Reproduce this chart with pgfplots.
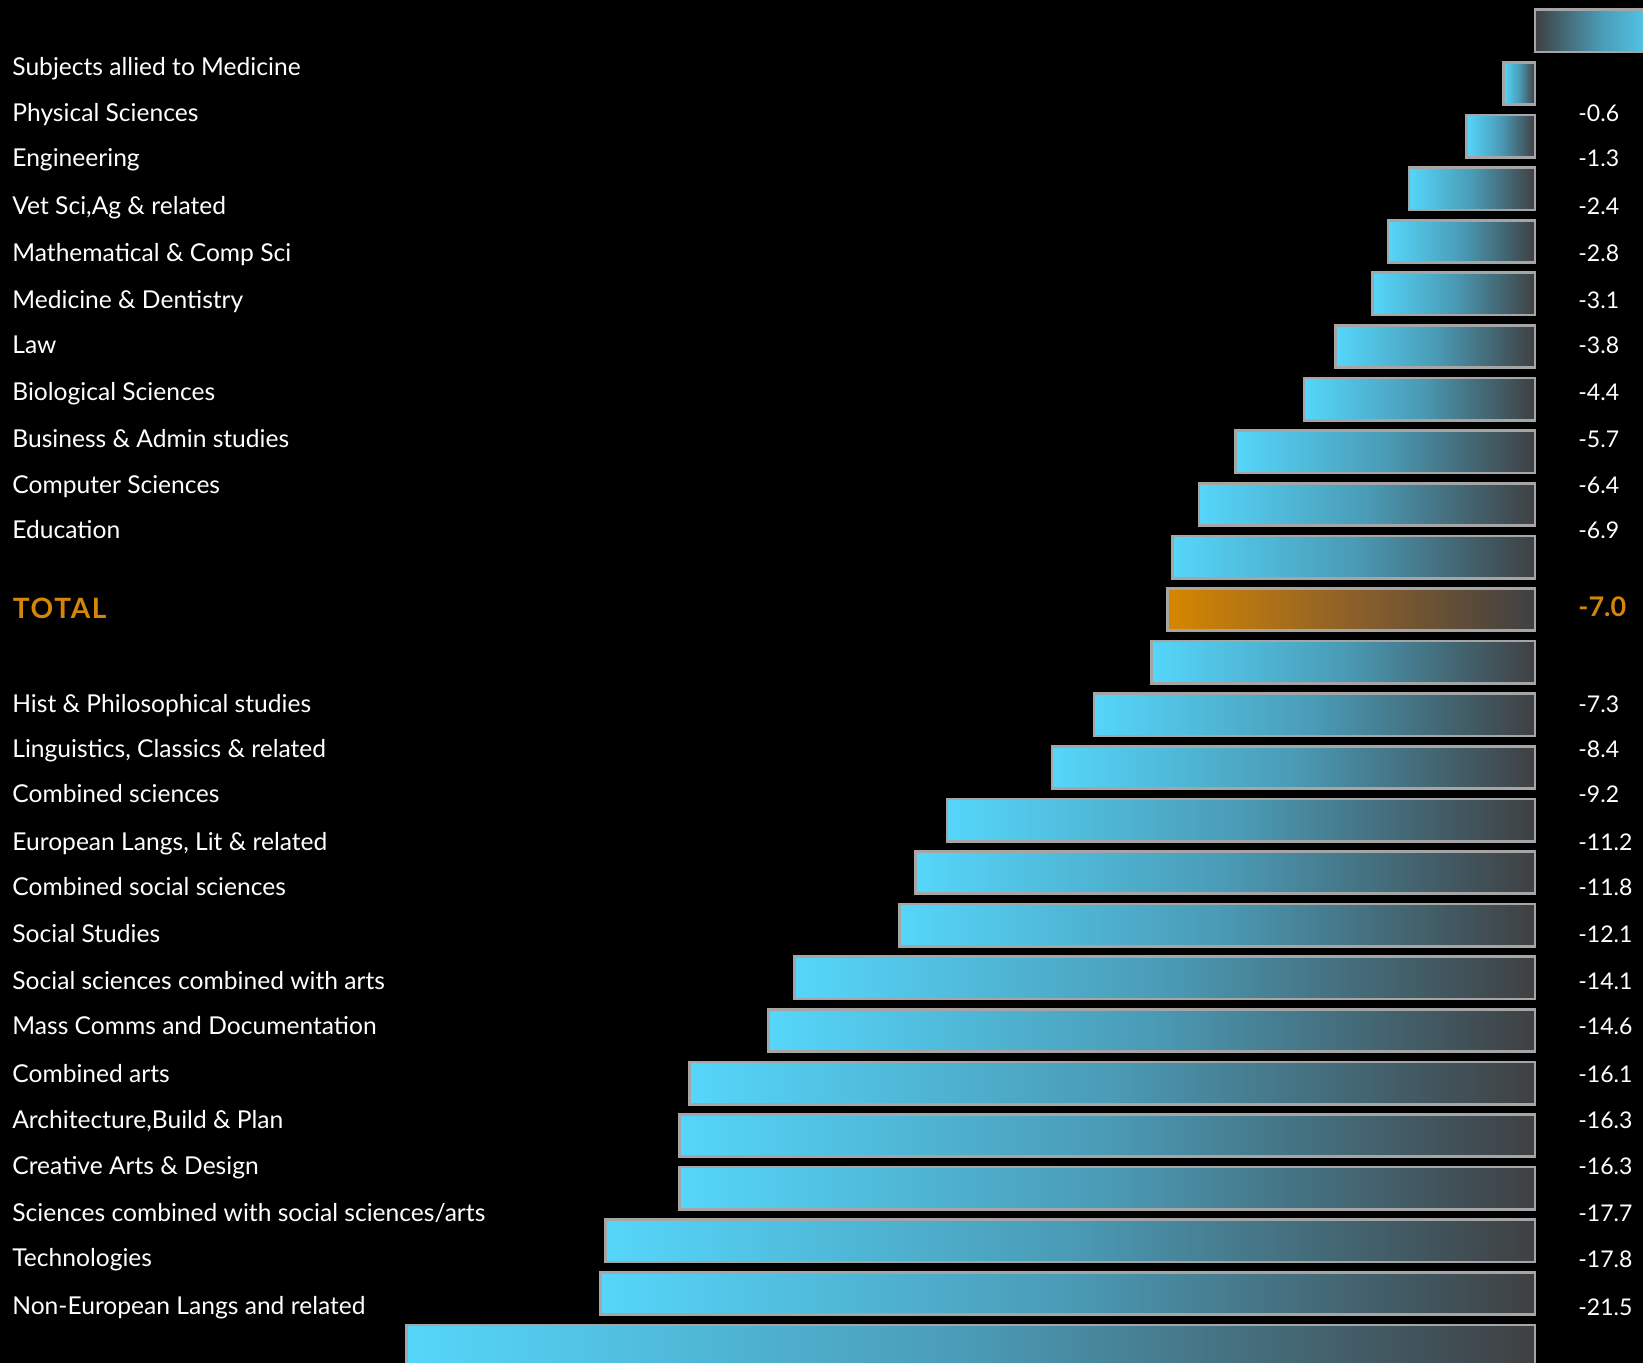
\documentclass[border=0pt]{standalone}
\usepackage{fontspec}
\setmainfont{Lato}
\usepackage{pgfplots}
\pgfplotsset{compat=1.18}

\definecolor{barL}{RGB}{85,214,250}
\definecolor{barM}{RGB}{74,155,182}
\definecolor{barR}{RGB}{63,64,66}
\definecolor{totL}{RGB}{214,134,0}
\definecolor{totM}{RGB}{140,96,42}
\definecolor{barEdge}{RGB}{165,165,165}
\definecolor{totText}{RGB}{212,134,11}

% horizontal gradients (the shaded path spans 25bp..75bp)
\pgfdeclarehorizontalshading{cyanbar}{100bp}{color(0bp)=(barL); color(25bp)=(barL); color(50bp)=(barM); color(75bp)=(barR); color(100bp)=(barR)}
\pgfdeclarehorizontalshading{cyanbarpos}{100bp}{color(0bp)=(barR); color(25bp)=(barR); color(50bp)=(barM); color(75bp)=(barL); color(100bp)=(barL)}
\pgfdeclarehorizontalshading{totalbar}{100bp}{color(0bp)=(totL); color(25bp)=(totL); color(50bp)=(totM); color(75bp)=(barR); color(100bp)=(barR)}

% one plot per bar so that each bar carries its own gradient
\newcommand{\negbar}[2]{\addplot[shading=cyanbar] coordinates {(#1,#2)};}
\newcommand{\lab}[2]{\node[anchor=base west, inner sep=0pt, text=white, font=\fontsize{12.3}{14}\selectfont] at (axis cs:-29.01,#1) {#2};}
\newcommand{\val}[2]{\node[anchor=base west, inner sep=0pt, text=white, font=\fontsize{11.5}{13}\selectfont] at (axis cs:0.819,#1) {#2};}

\begin{document}
\begin{tikzpicture}
\begin{axis}[
  scale only axis, width=821.5pt, height=681.5pt,
  xmin=-29.238, xmax=2.057, ymin=0, ymax=1363, y dir=reverse,
  axis background/.style={fill=black},
  axis line style={draw=none}, ticks=none,
  every axis plot/.append style={xbar, no marks, bar width=42.3, bar shift=0pt, draw=barEdge, line width=1.35pt},
]
% positive bar (runs past the right edge)
\addplot[shading=cyanbarpos] coordinates {(2.5,31)};
% falling subjects
\negbar{-0.6}{83.6}
\negbar{-1.3}{136.2}
\negbar{-2.4}{188.8}
\negbar{-2.8}{241.4}
\negbar{-3.1}{294}
\negbar{-3.8}{346.6}
\negbar{-4.4}{399.2}
\negbar{-5.7}{451.8}
\negbar{-6.4}{504.4}
\negbar{-6.9}{557}
% all subjects
\addplot[shading=totalbar] coordinates {(-7.0,609.6)};
\negbar{-7.3}{662.2}
\negbar{-8.4}{714.8}
\negbar{-9.2}{767.4}
\negbar{-11.2}{820}
\negbar{-11.8}{872.6}
\negbar{-12.1}{925.2}
\negbar{-14.1}{977.8}
\negbar{-14.6}{1030.4}
\negbar{-16.1}{1083}
\negbar{-16.3}{1135.6}
\negbar{-16.3}{1188.2}
\negbar{-17.7}{1240.8}
\negbar{-17.8}{1293.4}
\negbar{-21.5}{1346}

\lab{76}{Subjects allied to Medicine}
\lab{122}{Physical Sciences}
\lab{167}{Engineering}
\lab{215}{Vet Sci,Ag \& related}
\lab{261.5}{Mathematical \& Comp Sci}
\lab{308.5}{Medicine \& Dentistry}
\lab{353.5}{Law}
\lab{400}{Biological Sciences}
\lab{447}{Business \& Admin studies}
\lab{493}{Computer Sciences}
\lab{538}{Education}
\node[anchor=base west, inner sep=0pt, text=totText, font=\fontsize{14}{16}\bfseries\selectfont\addfontfeatures{LetterSpace=6}] at (axis cs:-29.0,618) {TOTAL};
\lab{712}{Hist \& Philosophical studies}
\lab{757}{Linguistics, Classics \& related}
\lab{802}{Combined sciences}
\lab{850}{European Langs, Lit \& related}
\lab{895}{Combined social sciences}
\lab{942.5}{Social Studies}
\lab{989.5}{Social sciences combined with arts}
\lab{1034.5}{Mass Comms and Documentation}
\lab{1082}{Combined arts}
\lab{1128}{Architecture,Build \& Plan}
\lab{1174}{Creative Arts \& Design}
\lab{1221}{Sciences combined with social sciences/arts}
\lab{1266}{Technologies}
\lab{1314.5}{Non-European Langs and related}

\val{122}{-0.6}
\val{167}{-1.3}
\val{215}{-2.4}
\val{261.5}{-2.8}
\val{308.5}{-3.1}
\val{353.5}{-3.8}
\val{400}{-4.4}
\val{447}{-5.7}
\val{493}{-6.4}
\val{538}{-6.9}
\node[anchor=base west, inner sep=0pt, text=totText, font=\fontsize{13.5}{15}\bfseries\selectfont] at (axis cs:0.819,616) {-7.0};
\val{712}{-7.3}
\val{757}{-8.4}
\val{802}{-9.2}
\val{850}{-11.2}
\val{895}{-11.8}
\val{942.5}{-12.1}
\val{989.5}{-14.1}
\val{1034.5}{-14.6}
\val{1082}{-16.1}
\val{1128}{-16.3}
\val{1174}{-16.3}
\val{1221}{-17.7}
\val{1267}{-17.8}
\val{1315}{-21.5}
\end{axis}
\end{tikzpicture}
\end{document}
